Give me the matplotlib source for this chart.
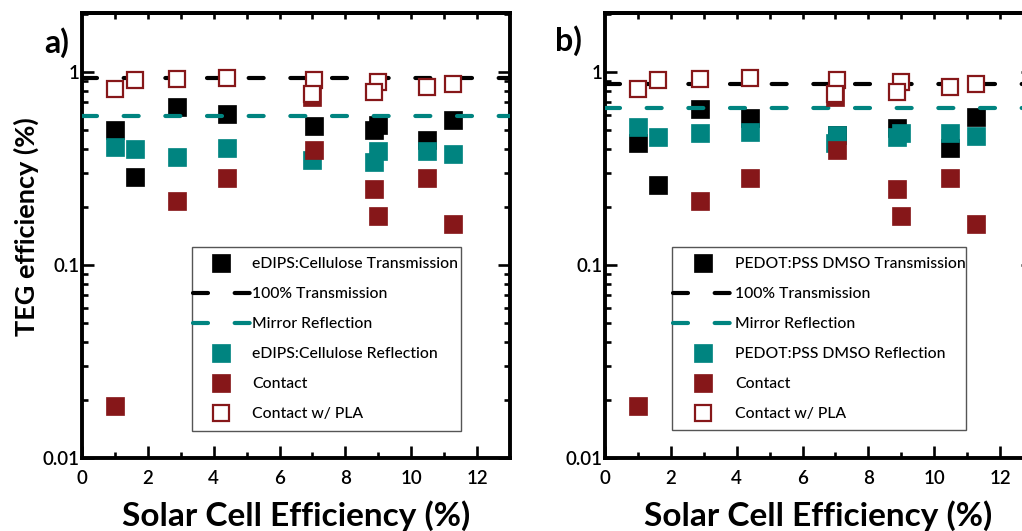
import matplotlib
matplotlib.use("Agg")
import matplotlib.pyplot as plt
from matplotlib.patches import Rectangle
from matplotlib.ticker import LogLocator, NullFormatter, FixedLocator, FixedFormatter

plt.rcParams['font.family'] = ['Lato', 'DejaVu Sans']

# ---------------- data ----------------
# Contact and Contact w/ PLA are shared by both panels
pla_x = [1.0, 1.6, 2.88, 4.4, 7.05, 7.0, 9.0, 8.88, 10.48, 11.28]
pla_y = [0.813, 0.909, 0.916, 0.934, 0.905, 0.766, 0.891, 0.785, 0.839, 0.863]

contact_x = [1.0, 2.88, 4.4, 7.05, 7.0, 8.88, 9.0, 10.48, 11.28]
contact_y = [0.0187, 0.215, 0.281, 0.394, 0.745, 0.247, 0.179, 0.281, 0.163]

# panel a: eDIPS:Cellulose
a_trans_x = [1.0, 1.6, 2.88, 4.4, 7.05, 8.88, 9.0, 10.48, 11.28]
a_trans_y = [0.50, 0.287, 0.661, 0.604, 0.527, 0.50, 0.531, 0.444, 0.564]
a_refl_x = [1.0, 1.6, 2.88, 4.4, 7.0, 8.88, 9.0, 10.48, 11.28]
a_refl_y = [0.407, 0.398, 0.364, 0.405, 0.350, 0.343, 0.391, 0.391, 0.376]
a_full_trans = 0.935
a_mirror = 0.590

# panel b: PEDOT:PSS DMSO
b_trans_x = [1.0, 1.6, 2.88, 4.4, 7.05, 8.88, 10.48, 11.28]
b_trans_y = [0.427, 0.260, 0.643, 0.575, 0.47, 0.51, 0.402, 0.582]
b_refl_x = [1.0, 1.6, 2.88, 4.4, 7.05, 7.0, 9.0, 8.88, 10.48, 11.28]
b_refl_y = [0.521, 0.462, 0.481, 0.490, 0.472, 0.430, 0.485, 0.462, 0.485, 0.466]
b_full_trans = 0.861
b_mirror = 0.654

x_ticks = [0, 2, 4, 6, 8, 10, 12]
y_ticks = [0.01, 0.1, 1]
y_ticklabels = ['0.01', '0.1', '1']

BLACK = '#000000'
TEAL = '#008480'
RED = '#861719'

W, H = 1022, 531
fig = plt.figure(figsize=(W / 100, H / 100), dpi=100)


def px_axes(l, t, r, b):
    return [l / W, 1 - b / H, (r - l) / W, (b - t) / H]


def panel(rect, trans_x, trans_y, refl_x, refl_y, full_t, mirror, name, letter, letter_xy,
          box, leg_anchor, handlelen, xlabel_x, ylabel):
    ax = fig.add_axes(rect)
    ms = 12.5
    ax.plot(trans_x, trans_y, 's', ms=ms, color=BLACK, mec=BLACK, mew=0.5, ls='none',
            label=f'{name} Transmission', zorder=3)
    ax.axhline(full_t, color=BLACK, lw=3.0, dashes=(3.6, 6.4), dash_capstyle='round',
               label='100% Transmission', zorder=4)
    ax.axhline(mirror, color=TEAL, lw=3.0, dashes=(3.6, 6.4), dash_capstyle='round',
               label='Mirror Reflection', zorder=4)
    ax.plot(refl_x, refl_y, 's', ms=ms, color=TEAL, mec=TEAL, mew=0.5, ls='none',
            label=f'{name} Reflection', zorder=5)
    ax.plot(contact_x, contact_y, 's', ms=ms, color=RED, mec=RED, mew=0.5, ls='none',
            label='Contact', zorder=6)
    ax.plot(pla_x, pla_y, 's', ms=11.5, mfc='white', mec=RED, mew=1.6, ls='none',
            label='Contact w/ PLA', zorder=7)

    ax.set_yscale('log')
    ax.set_xlim(0, 13)
    ax.set_ylim(0.01, 2.02)
    ax.xaxis.set_major_locator(FixedLocator(x_ticks))
    ax.xaxis.set_minor_locator(FixedLocator([1, 3, 5, 7, 9, 11]))
    ax.yaxis.set_major_locator(FixedLocator(y_ticks))
    ax.yaxis.set_major_formatter(FixedFormatter(y_ticklabels))
    ax.yaxis.set_minor_locator(LogLocator(base=10, subs=range(2, 10)))
    ax.yaxis.set_minor_formatter(NullFormatter())

    for s in ax.spines.values():
        s.set_linewidth(2.8)
    ax.tick_params(axis='both', which='both', direction='in', width=1.9, color=BLACK)
    ax.tick_params(axis='x', which='major', length=8.5, pad=9, labelsize=13.5)
    ax.tick_params(axis='x', which='minor', length=4)
    ax.tick_params(axis='y', which='major', length=8.5, pad=2, labelsize=13.5, right=True)
    ax.tick_params(axis='y', which='minor', length=4.5, right=True)
    for lab in ax.get_xticklabels() + ax.get_yticklabels():
        lab.set_fontweight('semibold')

    sec = ax.secondary_xaxis('top')
    sec.set_xticks(list(range(1, 13)))
    sec.tick_params(direction='in', length=4.5, width=1.9, labeltop=False)
    sec.spines['top'].set_linewidth(2.8)

    fig.text(xlabel_x / W, 1 - 526 / H, 'Solar Cell Efficiency (%)', fontsize=24,
             fontweight='bold', ha='center', va='baseline')
    if ylabel:
        fig.text(26 / W, 1 - 226.5 / H, 'TEG efficiency (%)', fontsize=19.5,
                 fontweight='bold', ha='center', va='center', rotation=90)

    fig.text(letter_xy[0] / W, 1 - letter_xy[1] / H, letter, fontsize=23, fontweight='bold',
             ha='center', va='center')

    # legend frame drawn explicitly
    bl, bt, br, bb = box
    ax.add_patch(Rectangle((bl / W, 1 - bb / H), (br - bl) / W, (bb - bt) / H,
                           transform=fig.transFigure, facecolor='white', edgecolor='#555555',
                           lw=1.0, zorder=9, clip_on=False))
    leg = ax.legend(loc='upper left', bbox_to_anchor=(leg_anchor[0] / W, 1 - leg_anchor[1] / H),
                    bbox_transform=fig.transFigure, borderaxespad=0, fontsize=11.3,
                    frameon=False, handlelength=handlelen, handletextpad=0.15,
                    labelspacing=1.02, borderpad=0, markerscale=1.0)
    for t in leg.get_texts():
        t.set_fontweight('medium')
    leg.set_zorder(10)
    return ax


panel(px_axes(82, 13, 510, 458), a_trans_x, a_trans_y, a_refl_x, a_refl_y,
      a_full_trans, a_mirror, 'eDIPS:Cellulose', 'a)', (57, 43),
      (192, 247, 461, 431), (193, 257), 3.63, 296, True)
panel(px_axes(605, 13, 1033, 458), b_trans_x, b_trans_y, b_refl_x, b_refl_y,
      b_full_trans, b_mirror, 'PEDOT:PSS DMSO', 'b)', (568, 41),
      (672, 247, 966, 430), (673, 257), 3.8, 818, False)

fig.savefig('out.png', dpi=100)
